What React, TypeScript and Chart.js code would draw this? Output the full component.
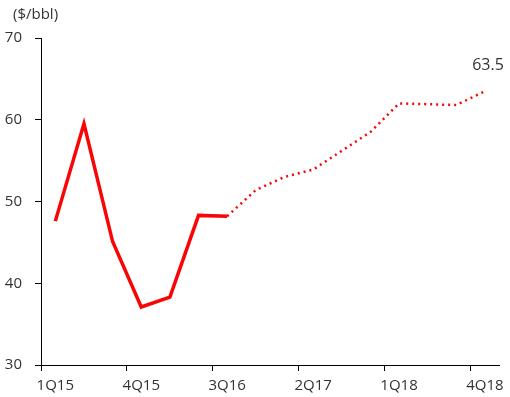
import React, { useEffect, useRef } from "react";
import { Chart, registerables } from "chart.js";

Chart.register(...registerables);

const categories = ["1Q15","2Q15","3Q15","4Q15","1Q16","2Q16","3Q16","4Q16","1Q17","2Q17","3Q17","4Q17","1Q18","2Q18","3Q18","4Q18"];
const actualValues = [47.6, 59.5, 45.1, 37.1, 38.3, 48.3, 48.2, null, null, null, null, null, null, null, null, null];
const forecastValues = [null, null, null, null, null, null, 48.2, 51.4, 53.0, 53.9, 56.2, 58.5, 62.0, 61.9, 61.8, 63.5];
const yTicks = [30, 40, 50, 60, 70];
const unitLabel = "($/bbl)";
const endLabel = "63.5";

const FONT = "'Open Sans', sans-serif";
const TEXT = "#333333";
const RED = "#fa0505";

const annotations = {
  id: "annotations",
  afterDraw(chart: any) {
    const ctx = chart.ctx;
    const x = chart.scales.x;
    const y = chart.scales.y;
    ctx.save();
    ctx.fillStyle = TEXT;
    ctx.font = `15px ${FONT}`;
    ctx.textAlign = "left";
    ctx.textBaseline = "middle";
    ctx.fillText(unitLabel, 13, 15);
    const last = forecastValues.length - 1;
    const px = x.getPixelForValue(last);
    const py = y.getPixelForValue(forecastValues[last] as number);
    ctx.font = `16px ${FONT}`;
    ctx.textAlign = "center";
    ctx.textBaseline = "middle";
    ctx.fillText(endLabel, px + 3, py - 26);
    ctx.restore();
  },
};

export default function App() {
  const ref = useRef<HTMLCanvasElement>(null);
  useEffect(() => {
    document.body.style.margin = "0";
    const chart = new Chart(ref.current!, {
      type: "line",
      data: {
        labels: categories,
        datasets: [
          {
            data: actualValues,
            borderColor: RED,
            borderWidth: 3.5,
            pointRadius: 0,
            tension: 0,
            borderJoinStyle: "miter",
            spanGaps: false,
          },
          {
            data: forecastValues,
            borderColor: RED,
            borderWidth: 2.5,
            borderDash: [2, 4],
            pointRadius: 0,
            tension: 0,
            spanGaps: false,
          },
        ],
      },
      options: {
        animation: false,
        responsive: false,
        layout: { padding: { top: 38, right: 10, left: 0, bottom: 0 } },
        plugins: { legend: { display: false }, tooltip: { enabled: false } },
        scales: {
          x: {
            type: "category",
            offset: true,
            border: { color: "#000", width: 1 },
            grid: {
              offset: true,
              drawOnChartArea: false,
              drawTicks: true,
              tickLength: 6,
              tickColor: (c: any) => (c.index % 3 === 0 ? "#000" : "rgba(0,0,0,0)"),
            },
            ticks: {
              autoSkip: false,
              maxRotation: 0,
              padding: 6,
              color: TEXT,
              font: { family: FONT, size: 15 },
              callback: (_v: any, i: number) => (i % 3 === 0 ? categories[i] : ""),
            },
            afterFit: (s: any) => { s.height = 32; },
          },
          y: {
            min: 30,
            max: 70,
            afterBuildTicks: (s: any) => { s.ticks = yTicks.map((v) => ({ value: v })); },
            border: { color: "#000", width: 1 },
            grid: { drawOnChartArea: false, drawTicks: true, tickLength: 6, tickColor: "#000" },
            ticks: {
              padding: 13,
              color: TEXT,
              font: { family: FONT, size: 15 },
            },
            afterFit: (s: any) => { s.width = 41; },
          },
        },
      },
      plugins: [annotations],
    });
    return () => chart.destroy();
  }, []);
  return (
    <div style={{ position: "absolute", left: 0, top: 0, width: 510, height: 397, background: "#fff" }}>
      <canvas ref={ref} width={510} height={397} style={{ width: 510, height: 397 }} />
    </div>
  );
}
